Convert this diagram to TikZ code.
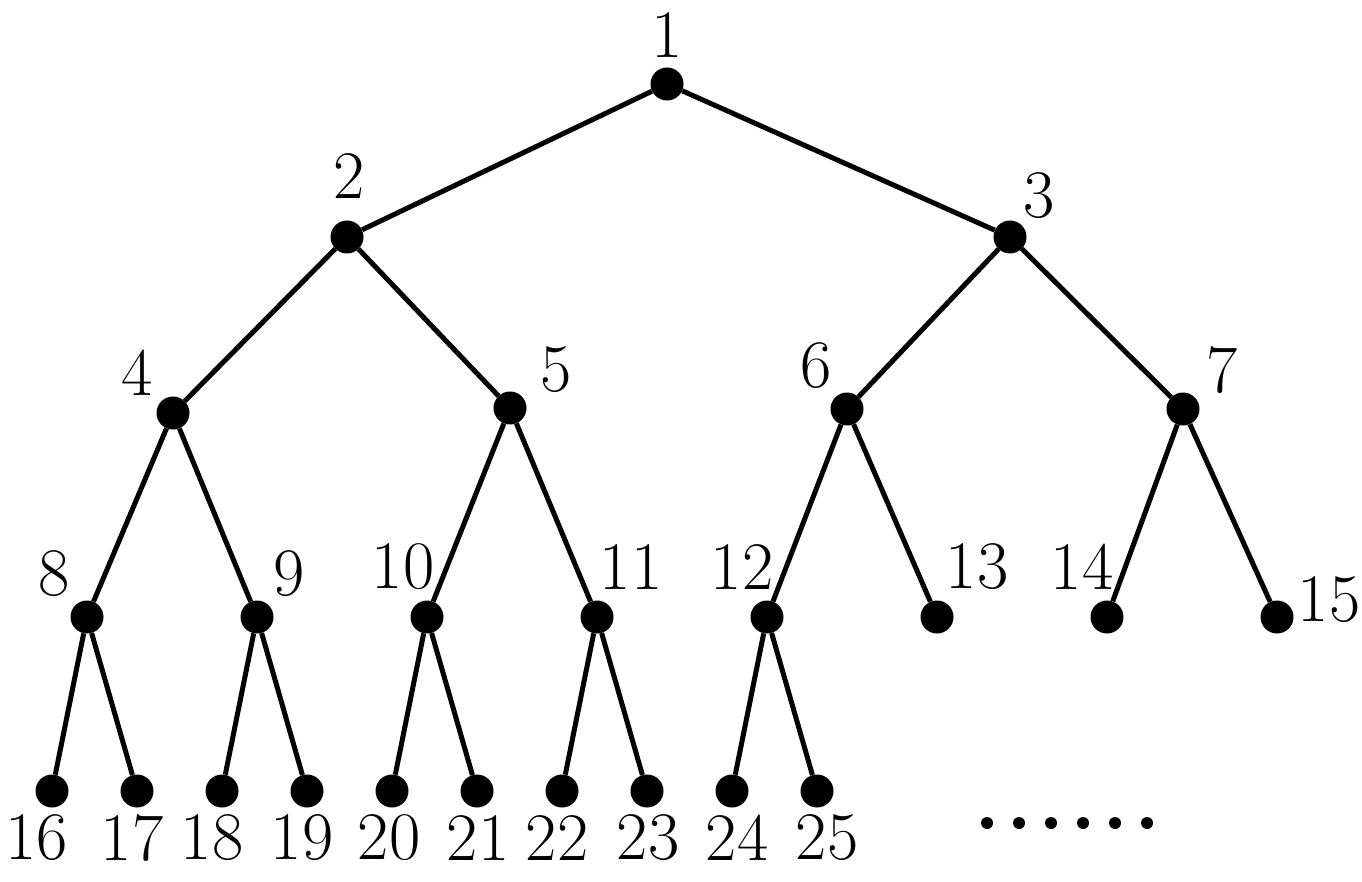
\documentclass[tikz,border=0pt]{standalone}
\usepackage{fontspec}
\begin{document}
\begin{tikzpicture}[x=1pt,y=-1pt,
  vert/.style={circle,fill=black,inner sep=0pt,minimum size=33pt},
  lab/.style={inner sep=0pt,font=\fontsize{68}{80}\selectfont},
  edge/.style={line width=5pt}]
\useasboundingbox (0,0) rectangle (1362,882);
% vertices
\node[vert] (n1) at (667,84) {};
\node[vert] (n2) at (347,237) {};
\node[vert] (n3) at (1010,237) {};
\node[vert] (n4) at (173,413) {};
\node[vert] (n5) at (510,408) {};
\node[vert] (n6) at (847,409) {};
\node[vert] (n7) at (1183,409) {};
\node[vert] (n8) at (87,617) {};
\node[vert] (n9) at (257,617) {};
\node[vert] (n10) at (427,617) {};
\node[vert] (n11) at (597,617) {};
\node[vert] (n12) at (767,617) {};
\node[vert] (n13) at (937,617) {};
\node[vert] (n14) at (1107,617) {};
\node[vert] (n15) at (1277,617) {};
\node[vert] (n16) at (52,791) {};
\node[vert] (n17) at (137,791) {};
\node[vert] (n18) at (222,791) {};
\node[vert] (n19) at (307,791) {};
\node[vert] (n20) at (392,791) {};
\node[vert] (n21) at (477,791) {};
\node[vert] (n22) at (562,791) {};
\node[vert] (n23) at (647,791) {};
\node[vert] (n24) at (732,791) {};
\node[vert] (n25) at (817,791) {};
% edges
\draw[edge] (n1) -- (n2); \draw[edge] (n1) -- (n3);
\draw[edge] (n2) -- (n4); \draw[edge] (n2) -- (n5);
\draw[edge] (n3) -- (n6); \draw[edge] (n3) -- (n7);
\draw[edge] (n4) -- (n8); \draw[edge] (n4) -- (n9);
\draw[edge] (n5) -- (n10); \draw[edge] (n5) -- (n11);
\draw[edge] (n6) -- (n12); \draw[edge] (n6) -- (n13);
\draw[edge] (n7) -- (n14); \draw[edge] (n7) -- (n15);
\draw[edge] (n8) -- (n16); \draw[edge] (n8) -- (n17);
\draw[edge] (n9) -- (n18); \draw[edge] (n9) -- (n19);
\draw[edge] (n10) -- (n20); \draw[edge] (n10) -- (n21);
\draw[edge] (n11) -- (n22); \draw[edge] (n11) -- (n23);
\draw[edge] (n12) -- (n24); \draw[edge] (n12) -- (n25);
% labels
\node[lab] (l1) at (667,35) {1};
\node[lab] (l2) at (349,176) {2};
\node[lab] (l3) at (1039,196) {3};
\node[lab] (l4) at (137,373) {4};
\node[lab] (l5) at (556,370) {5};
\node[lab] (l6) at (816,366) {6};
\node[lab] (l7) at (1222,370) {7};
\node[lab] (l8) at (54,574) {8};
\node[lab] (l9) at (289,574) {9};
\node[lab] (l10) at (403,567) {10};
\node[lab] (l11) at (631,567) {11};
\node[lab] (l12) at (742,567) {12};
\node[lab] (l13) at (977,567) {13};
\node[lab] (l14) at (1082,567) {14};
\node[lab] (l15) at (1329,600) {15};
\node[lab] (l16) at (37,838) {16};
\node[lab] (l17) at (132,838) {17};
\node[lab] (l18) at (212,838) {18};
\node[lab] (l19) at (302,838) {19};
\node[lab] (l20) at (389,838) {20};
\node[lab] (l21) at (478,838) {21};
\node[lab] (l22) at (557,838) {22};
\node[lab] (l23) at (648,838) {23};
\node[lab] (l24) at (737,838) {24};
\node[lab] (l25) at (827,838) {25};
% ellipsis
\foreach \i in {0,...,5} \fill (987+32*\i,823) circle (6pt);
\end{tikzpicture}
\end{document}
